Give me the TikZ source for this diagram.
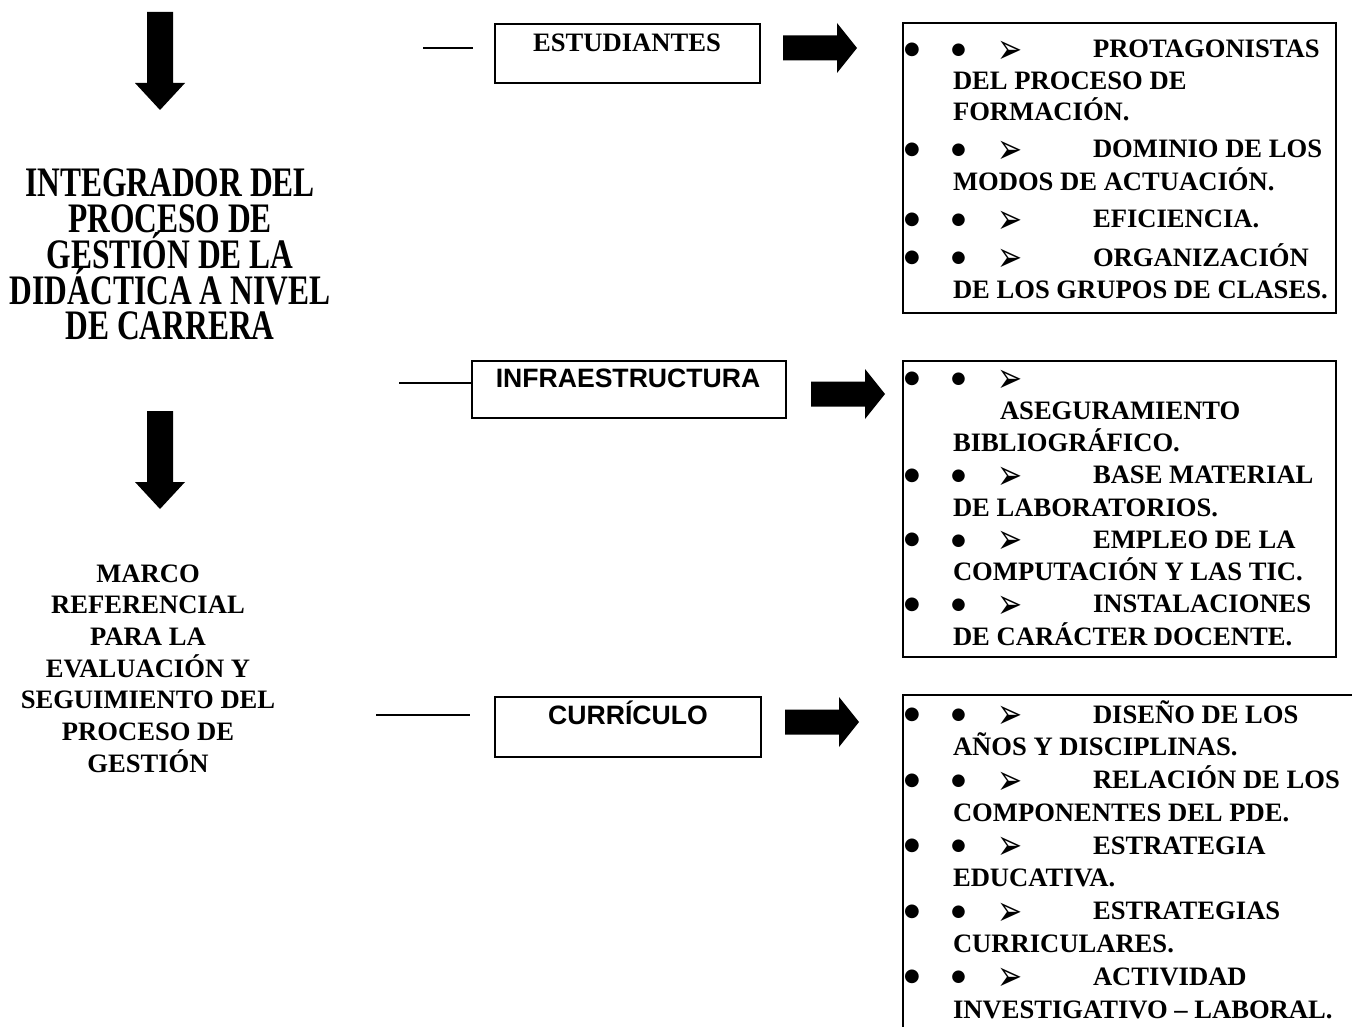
\documentclass[tikz,border=0pt]{standalone}
\usepackage{fontspec}
\usepackage{graphicx}
\setmainfont{Liberation Serif}
\newfontfamily\titlefont[FakeStretch=0.75]{Liberation Serif}
\newfontfamily\sansf{Liberation Sans}
\newfontfamily\symf{DejaVu Sans}
\begin{document}
\begin{tikzpicture}[x=1pt,y=-1pt,
  every node/.style={inner sep=0pt, outer sep=0pt},
  bx/.style={draw, line width=2pt, anchor=north west},
  tl/.style={anchor=base west, font=\bfseries\fontsize{26.6}{30}\selectfont},
  tc/.style={anchor=base, font=\bfseries\fontsize{26.6}{30}\selectfont},
  sl/.style={anchor=base, font=\sansf\bfseries\fontsize{26.6}{30}\selectfont},
  ttl/.style={anchor=base, font=\titlefont\bfseries\fontsize{42}{36}\selectfont},
  bigb/.style={anchor=center, font=\symf\fontsize{18}{18}\selectfont},
  smb/.style={anchor=center, font=\symf\fontsize{16.5}{16.5}\selectfont},
  arr/.style={anchor=center, font=\symf\fontsize{30}{30}\selectfont},
  conn/.style={line width=1.5pt},
  bul/.pic={\node[bigb] (-a) at (912,-8) {●};
            \node[smb] (-b) at (958.5,-7.5) {●};
            \node[arr] (-c) at (1010,-5.5) {\scalebox{1}[1.4]{➢}};},
  rblock/.pic={\fill (0,-12.5) -- (54,-12.5) -- (54,-25) -- (74,0) -- (54,25) -- (54,12.5) -- (0,12.5) -- cycle;},
  dblock/.pic={\fill (-13,0) -- (13,0) -- (13,71) -- (25,71) -- (0,98) -- (-25,71) -- (-13,71) -- cycle;}
]
\fill[white] (0,0) rectangle (1352,1027);
\useasboundingbox (0,0) rectangle (1352,1027);

% left column
\pic at (160,12) {dblock};
\node[ttl] (t1) at (170,197) {INTEGRADOR DEL};
\node[ttl] (t2) at (170,232.7) {PROCESO DE};
\node[ttl] (t3) at (170,268.4) {GESTIÓN DE LA};
\node[ttl] (t4) at (170,304) {DIDÁCTICA A NIVEL};
\node[ttl] (t5) at (170,339.8) {DE CARRERA};
\pic at (160,411) {dblock};
\node[tc] (m1) at (148,582) {MARCO};
\node[tc] (m2) at (148,613.7) {REFERENCIAL};
\node[tc] (m3) at (148,645.3) {PARA LA};
\node[tc] (m4) at (148,677) {EVALUACIÓN Y};
\node[tc] (m5) at (148,708.7) {SEGUIMIENTO DEL};
\node[tc] (m6) at (148,740.3) {PROCESO DE};
\node[tc] (m7) at (148,772) {GESTIÓN};

% category boxes
\node[bx, minimum width=265, minimum height=59] (est) at (495,24) {};
\node[tc] (estt) at (627,52) {ESTUDIANTES};
\node[bx, minimum width=314, minimum height=57] (inf) at (472,361) {};
\node[sl] (inft) at (628,387) {INFRAESTRUCTURA};
\node[bx, minimum width=266, minimum height=60] (cur) at (495,697) {};
\node[sl] (curt) at (628,724) {CURRÍCULO};

% connectors
\coordinate (c1a) at (423,48); \coordinate (c1b) at (473,48);
\draw[conn] (c1a) -- (c1b);
\coordinate (c2a) at (399,383);
\draw[conn] (c2a) -- (c2a -| inf.west);
\coordinate (c3a) at (376,715); \coordinate (c3b) at (470,715);
\draw[conn] (c3a) -- (c3b);

% block arrows
\pic at (783,48) {rblock};
\pic at (811,394) {rblock};
\pic at (785,722) {rblock};

% right boxes
\node[bx, minimum width=433, minimum height=290] (rb1) at (903,23) {};
\node[bx, minimum width=433, minimum height=296] (rb2) at (903,361) {};
\coordinate (rb3a) at (1352,695); \coordinate (rb3b) at (903,695); \coordinate (rb3c) at (903,1027);
\draw[line width=2pt] (rb3a) -- (rb3b) -- (rb3c);

% top box list
\pic (a1) at (0,58) {bul};
\node[tl] (a1t) at (1093,58) {PROTAGONISTAS};
\node[tl] (a1u) at (953,90) {DEL PROCESO DE};
\node[tl] (a1v) at (953,121) {FORMACIÓN.};
\pic (a2) at (0,158) {bul};
\node[tl] (a2t) at (1093,158) {DOMINIO DE LOS};
\node[tl] (a2u) at (953,191) {MODOS DE ACTUACIÓN.};
\pic (a3) at (0,228) {bul};
\node[tl] (a3t) at (1093,228) {EFICIENCIA.};
\pic (a4) at (0,266) {bul};
\node[tl] (a4t) at (1093,266) {ORGANIZACIÓN};
\node[tl] (a4u) at (953,298) {DE LOS GRUPOS DE CLASES.};

% middle box list
\pic (b1) at (0,387) {bul};
\node[tl] (b1t) at (1000,419.25) {ASEGURAMIENTO};
\node[tl] (b1u) at (953,451.5) {BIBLIOGRÁFICO.};
\pic (b2) at (0,483.75) {bul};
\node[tl] (b2t) at (1093,483.75) {BASE MATERIAL};
\node[tl] (b2u) at (953,516) {DE LABORATORIOS.};
\pic (b3) at (0,548.25) {bul};
\node[tl] (b3t) at (1093,548.25) {EMPLEO DE LA};
\node[tl] (b3u) at (953,580.5) {COMPUTACIÓN Y LAS TIC.};
\pic (b4) at (0,612.75) {bul};
\node[tl] (b4t) at (1093,612.75) {INSTALACIONES};
\node[tl] (b4u) at (953,645) {DE CARÁCTER DOCENTE.};

% bottom box list
\pic (d1) at (0,723) {bul};
\node[tl] (d1t) at (1093,723) {DISEÑO DE LOS};
\node[tl] (d1u) at (953,755.8) {AÑOS Y DISCIPLINAS.};
\pic (d2) at (0,788.6) {bul};
\node[tl] (d2t) at (1093,788.6) {RELACIÓN DE LOS};
\node[tl] (d2u) at (953,821.3) {COMPONENTES DEL PDE.};
\pic (d3) at (0,854.1) {bul};
\node[tl] (d3t) at (1093,854.1) {ESTRATEGIA};
\node[tl] (d3u) at (953,886.9) {EDUCATIVA.};
\pic (d4) at (0,919.7) {bul};
\node[tl] (d4t) at (1093,919.7) {ESTRATEGIAS};
\node[tl] (d4u) at (953,952.5) {CURRICULARES.};
\pic (d5) at (0,985.2) {bul};
\node[tl] (d5t) at (1093,985.2) {ACTIVIDAD};
\node[tl] (d5u) at (953,1018) {INVESTIGATIVO – LABORAL.};
\end{tikzpicture}
\end{document}
